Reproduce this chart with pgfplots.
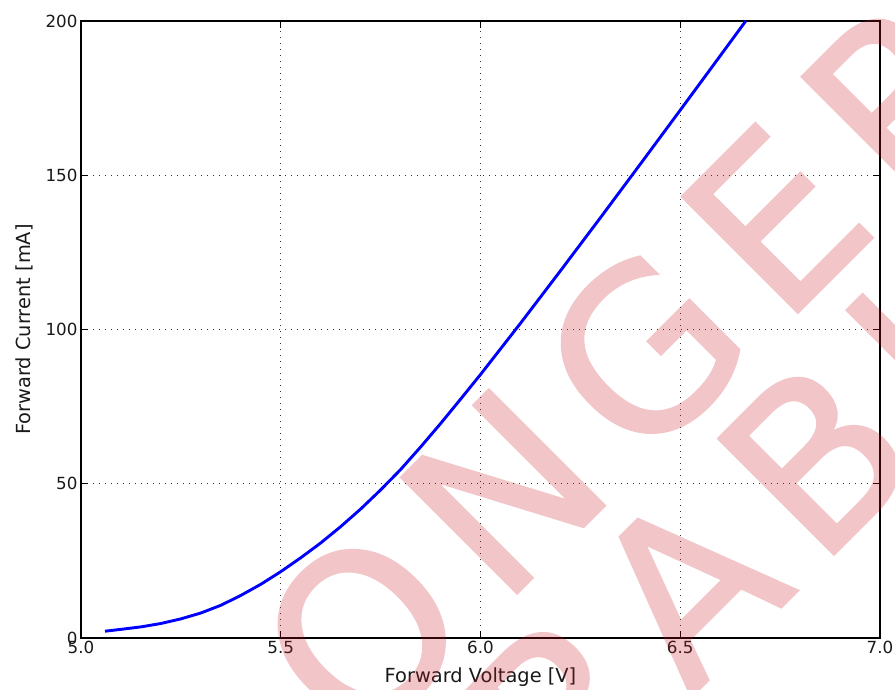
\documentclass[border=0pt]{standalone}
\usepackage{pgfplots}
\pgfplotsset{compat=1.18}
\usepackage{fontspec}
\setmainfont{DejaVu Sans}
\newfontfamily\wmfont[LetterSpace=12.5, FakeBold=1.3]{DejaVu Sans}
\definecolor{wmred}{RGB}{203,27,35}
\pgfkeys{/pgf/number format/assume math mode=true}
\begin{document}
\begin{tikzpicture}[x=1pt,y=1pt]
\useasboundingbox (0,0) rectangle (895,690);
\begin{axis}[
  at={(81pt,52pt)}, anchor=south west,
  width=799pt, height=617pt, scale only axis,
  xmin=5, xmax=7, ymin=0, ymax=200,
  xtick={5,5.5,6,6.5,7}, ytick={0,50,100,150,200},
  xticklabels={5.0,5.5,6.0,6.5,7.0},
  tick align=inside, major tick length=7pt,
  grid=major,
  major grid style={black!80, line width=0.8pt, dash pattern=on 1.2pt off 4.8pt},
  axis line style={black, line width=1.2pt},
  every tick/.style={black, line width=1pt},
  tick label style={font=\fontsize{16.7}{20}\selectfont, text=black!90},
  label style={font=\fontsize{19.4}{23}\selectfont, text=black!90},
  xlabel={Forward Voltage [V]},
  ylabel={Forward Current [mA]},
  xlabel style={at={(axis description cs:0.5,-0.0729)}, anchor=base},
  ylabel style={at={(axis description cs:-0.0638,0.5)}, anchor=base, rotate=0},
]
\addplot[blue, line width=2.9pt, line join=round] coordinates {
(5.06,2.2) (5.10,2.8) (5.15,3.6) (5.20,4.7) (5.25,6.2) (5.30,8.1)
(5.35,10.6) (5.40,13.8) (5.45,17.4) (5.50,21.5) (5.55,26.0) (5.60,30.8)
(5.65,36.1) (5.70,41.8) (5.75,48.0) (5.80,54.6) (5.85,61.9) (5.90,69.5)
(5.95,77.4) (6.00,85.4) (6.10,102.0) (6.20,119.0) (6.30,136.2)
(6.40,153.6) (6.50,171.1) (6.60,188.7) (6.664,200.0)
};
\end{axis}
\begin{scope}
\clip (0,0) rectangle (895,690);
\begin{scope}[transparency group, opacity=0.25]
\node[rotate=45, anchor=base, inner sep=0pt, text=wmred,
  font=\wmfont\fontsize{224}{224}\selectfont] at (467,47) {NO LONGER};
\node[rotate=45, anchor=base, inner sep=0pt, text=wmred,
  font=\wmfont\fontsize{224}{224}\selectfont] at (593,-105) {ORDERABLE};
\end{scope}
\end{scope}
\end{tikzpicture}
\end{document}
